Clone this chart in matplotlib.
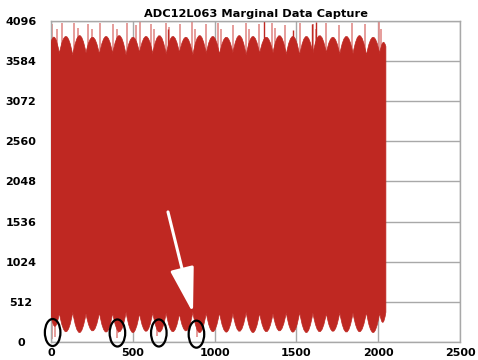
import matplotlib
matplotlib.use("Agg")
import matplotlib.pyplot as plt
from matplotlib.path import Path
from matplotlib.patches import PathPatch, Ellipse

# envelope of the captured waveform (samples / ADC codes)
edge_x = [0, 51, 133, 214, 296, 377, 459, 541, 622, 704, 785, 867, 949, 1030,
          1112, 1193, 1275, 1357, 1438, 1520, 1601, 1683, 1765, 1846, 1928, 2009, 2047]
top_edge = [3830, 3680, 3660, 3690, 3670, 3680, 3660, 3690, 3680, 3670, 3690, 3660, 3680,
            3670, 3690, 3660, 3680, 3690, 3670, 3660, 3680, 3690, 3670, 3680, 3660, 3680, 3770]
top_peak = [3880, 3900, 3910, 3890, 3900, 3910, 3890, 3900, 3910, 3900, 3890, 3910, 3900,
            3890, 3910, 3900, 3890, 3910, 3900, 3900, 3910, 3890, 3900, 3910, 3890, 3820]
bot_edge = [330, 370, 380, 360, 375, 370, 380, 365, 375, 370, 360, 380, 370,
            375, 365, 380, 370, 360, 375, 380, 370, 365, 375, 370, 380, 370, 380]
bot_peak = [200, 130, 120, 140, 125, 130, 120, 135, 125, 130, 140, 120, 130,
            125, 135, 120, 130, 140, 125, 120, 130, 135, 125, 130, 120, 250]

# glitch samples reaching outside the envelope
top_spike_x = [8, 35, 65, 143, 167, 224, 253, 300, 381, 402, 463, 520, 545, 610, 630,
               700, 720, 790, 860, 880, 950, 1020, 1040, 1110, 1190, 1210, 1270, 1350,
               1370, 1430, 1520, 1600, 1620, 1680, 1760, 1840, 1920, 2005, 2020]
top_spike_y = [4060, 4000, 4070, 4070, 4010, 4060, 3990, 4070, 4060, 4000, 4070, 4040,
               4080, 4060, 3990, 4070, 4020, 4060, 4080, 4000, 4060, 4070, 3990, 4050,
               4070, 4000, 4060, 4070, 4010, 4050, 4070, 4060, 4000, 4070, 4050, 4070,
               4060, 4090, 4000]
dark_spike_x = [716, 1303, 1480, 1595, 1620]
dark_spike_y = [3990, 4096, 3980, 4060, 4080]
low_spike_x = [6, 25, 402, 410, 647, 890]
low_spike_y = [40, 60, 50, 120, 80, 60]

# circled glitches
circle_x = [10, 406, 659, 889]
circle_y = [121, 115, 115, 100]

y_ticks = [0, 512, 1024, 1536, 2048, 2560, 3072, 3584, 4096]
x_ticks = [0, 500, 1000, 1500, 2000, 2500]

red = "#BF2822"
pink = "#E28C8A"
grey = "#A8A8A8"

fig = plt.figure(figsize=(4.78, 3.6), dpi=100)
ax = fig.add_axes([51 / 478, 1 - 342 / 360, 409 / 478, 321 / 360])

# build the filled envelope with quadratic arcs between the cusps
verts = [(edge_x[0], top_edge[0])]
codes = [Path.MOVETO]
for i in range(len(edge_x) - 1):
    cx = (edge_x[i] + edge_x[i + 1]) / 2
    cy = 2 * top_peak[i] - (top_edge[i] + top_edge[i + 1]) / 2
    verts += [(cx, cy), (edge_x[i + 1], top_edge[i + 1])]
    codes += [Path.CURVE3, Path.CURVE3]
verts.append((edge_x[-1], bot_edge[-1]))
codes.append(Path.LINETO)
for i in range(len(edge_x) - 2, -1, -1):
    cx = (edge_x[i] + edge_x[i + 1]) / 2
    cy = 2 * bot_peak[i] - (bot_edge[i] + bot_edge[i + 1]) / 2
    verts += [(cx, cy), (edge_x[i], bot_edge[i])]
    codes += [Path.CURVE3, Path.CURVE3]
verts.append((edge_x[0], top_edge[0]))
codes.append(Path.CLOSEPOLY)
ax.add_patch(PathPatch(Path(verts, codes), facecolor=red, edgecolor=red, lw=0.5, zorder=3))

ax.vlines(top_spike_x, 3500, top_spike_y, colors=pink, lw=1.2, zorder=2)
ax.vlines(dark_spike_x, 3500, dark_spike_y, colors=red, lw=1.0, zorder=2)
ax.vlines(low_spike_x, low_spike_y, 600, colors=pink, lw=1.2, zorder=2)

for cx, cy in zip(circle_x, circle_y):
    ax.add_patch(Ellipse((cx, cy), 95, 345, fill=False, edgecolor="black",
                         lw=1.6, zorder=5, clip_on=False))

ax.annotate("", xy=(868, 370), xytext=(715, 1660),
            arrowprops=dict(arrowstyle="-|>,head_length=1.4,head_width=0.37",
                            mutation_scale=20, color="white", lw=2.2,
                            shrinkA=0, shrinkB=0), zorder=6)

ax.set_xlim(0, 2500)
ax.set_ylim(0, 4096)
ax.set_xticks(x_ticks)
ax.set_yticks(y_ticks)
ax.set_xticklabels([str(v) for v in x_ticks], fontsize=8, fontweight="bold")
ax.set_yticklabels([str(v) for v in y_ticks], fontsize=8, fontweight="bold")
ax.tick_params(axis="both", length=0)
ax.tick_params(axis="x", pad=4)
ax.tick_params(axis="y", pad=21.6)
for lbl in ax.get_yticklabels():
    lbl.set_ha("center")
ax.grid(True, color=grey, lw=1.0, zorder=0)
ax.set_axisbelow(True)
for s in ax.spines.values():
    s.set_color(grey)
    s.set_linewidth(1.0)

ax.set_title("ADC12L063 Marginal Data Capture", fontsize=8.2, fontweight="heavy", pad=3)

fig.savefig("out.png", dpi=100)
